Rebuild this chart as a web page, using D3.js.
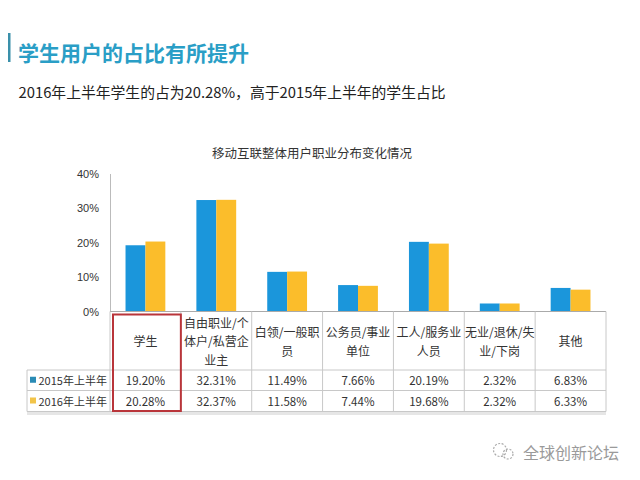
<!DOCTYPE html>
<html><head><meta charset="utf-8">
<script src="https://cdn.jsdelivr.net/npm/d3@7/dist/d3.min.js"></script>
<style>
html,body{margin:0;padding:0;background:#fff;}
svg{display:block;font-family:"Noto Sans CJK SC","Noto Sans",sans-serif;}
</style></head>
<body><svg id="c" width="640" height="480"></svg>
<script>
const pageTitle = "学生用户的占比有所提升";
const subtitle = "2016年上半年学生的占为20.28%，高于2015年上半年的学生占比";
const chartTitle = "移动互联整体用户职业分布变化情况";
const categories = ["学生", "自由职业/个\n体户/私营企\n业主", "白领/一般职\n员", "公务员/事业\n单位", "工人/服务业\n人员", "无业/退休/失\n业/下岗", "其他"];
const seriesNames = ["2015年上半年", "2016年上半年"];
const values2015 = [19.20, 32.31, 11.49, 7.66, 20.19, 2.32, 6.83];
const values2016 = [20.28, 32.37, 11.58, 7.44, 19.68, 2.32, 6.33];
const yTicks = [0, 10, 20, 30, 40];
const highlightIndex = 0;
const watermark = "全球创新论坛";

const colors = ["#1b96db", "#fbbd2b"];
const svg = d3.select("#c");

// page title
svg.append("rect").attr("x", 8).attr("y", 33).attr("width", 2.5).attr("height", 29).attr("fill", "#3a90aa");
svg.append("text").attr("x", 18).attr("y", 52).attr("dominant-baseline", "central")
  .attr("font-size", 21).attr("font-weight", "bold").attr("fill", "#2a9ec6").text(pageTitle);
svg.append("text").attr("x", 18.5).attr("y", 91).attr("dominant-baseline", "central")
  .attr("font-size", 14.8).attr("fill", "#222").text(subtitle);
svg.append("text").attr("x", 312).attr("y", 152).attr("dominant-baseline", "central")
  .attr("text-anchor", "middle").attr("font-size", 12.5).attr("fill", "#333").text(chartTitle);

const x0 = 110, x1 = 606;
const x = d3.scaleBand().domain(d3.range(categories.length)).range([x0, x1]).paddingInner(0).paddingOuter(0);
const y = d3.scaleLinear().domain([0, 40]).range([311.5, 173.5]);
const xs = d3.scaleBand().domain([0, 1]).range([0, x.bandwidth()]).paddingOuter(0.78).paddingInner(0);

// y axis
const yAxis = svg.append("g").attr("transform", `translate(${x0},0)`)
  .call(d3.axisLeft(y).tickValues(yTicks).tickSize(0).tickPadding(11).tickFormat(d => d + "%"));
yAxis.select(".domain").attr("stroke", "#bbb");
yAxis.selectAll("text").attr("font-size", 11).attr("fill", "#333").attr("font-family", "inherit");

// bars
const series = [values2015, values2016];
series.forEach((vals, si) => {
  svg.append("g").selectAll("rect").data(vals).join("rect")
    .attr("x", (d, i) => x(i) + xs(si))
    .attr("width", xs.bandwidth())
    .attr("y", d => y(d))
    .attr("height", d => y(0) - y(d))
    .attr("fill", colors[si]);
});

// table
const tTop = 311.5, hBot = 370, r1Bot = 390.5, r2Bot = 411.5, tLeft = 27;
const grid = svg.append("g").attr("stroke", "#c8c8c8").attr("stroke-width", 1).attr("fill", "none");
grid.append("line").attr("x1", x0).attr("x2", x1).attr("y1", tTop).attr("y2", tTop).attr("stroke", "#aaa");
[hBot, r1Bot, r2Bot].forEach(yy => grid.append("line").attr("x1", tLeft).attr("x2", x1).attr("y1", yy).attr("y2", yy));
grid.append("line").attr("x1", tLeft).attr("x2", tLeft).attr("y1", hBot).attr("y2", r2Bot);
d3.range(categories.length + 1).forEach(i => {
  const xx = i < categories.length ? x(i) : x1;
  grid.append("line").attr("x1", xx).attr("x2", xx).attr("y1", tTop).attr("y2", r2Bot);
});
svg.append("line").attr("x1", tLeft).attr("x2", x1).attr("y1", r2Bot + 2).attr("y2", r2Bot + 2).attr("stroke", "#e6e6e6").attr("stroke-width", 3);

// header labels
categories.forEach((c, i) => {
  const lines = c.split("\n");
  const cx = x(i) + x.bandwidth() / 2;
  const lh = 18.5, cy = (tTop + hBot) / 2;
  const t = svg.append("text").attr("text-anchor", "middle").attr("font-size", 12).attr("fill", "#333");
  lines.forEach((l, k) => {
    t.append("tspan").attr("x", cx).attr("y", cy + (k - (lines.length - 1) / 2) * lh)
      .attr("dominant-baseline", "central").text(l);
  });
});

// value rows
const rowMid = [(hBot + r1Bot) / 2, (r1Bot + r2Bot) / 2];
series.forEach((vals, si) => {
  svg.append("g").selectAll("text").data(vals).join("text")
    .attr("x", (d, i) => x(i) + x.bandwidth() / 2).attr("y", rowMid[si])
    .attr("text-anchor", "middle").attr("dominant-baseline", "central")
    .attr("font-size", 11.5).attr("fill", "#333").text(d => d.toFixed(2) + "%");
  svg.append("rect").attr("x", 30).attr("y", rowMid[si] - 3.5).attr("width", 6).attr("height", 6).attr("fill", si ? "#f2c449" : "#2a8bb5");
  svg.append("text").attr("x", 38.5).attr("y", rowMid[si]).attr("dominant-baseline", "central")
    .attr("font-size", 11).attr("fill", "#333").text(seriesNames[si]);
});

// highlight box
svg.append("rect").attr("x", x(highlightIndex) + 3).attr("y", 314.5)
  .attr("width", x.bandwidth() - 3).attr("height", 96.5)
  .attr("fill", "none").attr("stroke", "#b9353a").attr("stroke-width", 2);

// watermark
const wm = svg.append("g").attr("fill", "none").attr("stroke", "#aaa").attr("stroke-width", 1.2).attr("stroke-dasharray", "2,1.5");
wm.append("circle").attr("cx", 500).attr("cy", 450).attr("r", 6.5);
wm.append("circle").attr("cx", 508).attr("cy", 454).attr("r", 5);
svg.append("text").attr("x", 523).attr("y", 452).attr("dominant-baseline", "central")
  .attr("font-size", 16).attr("fill", "#9a9a9a").text(watermark);
</script></body></html>
